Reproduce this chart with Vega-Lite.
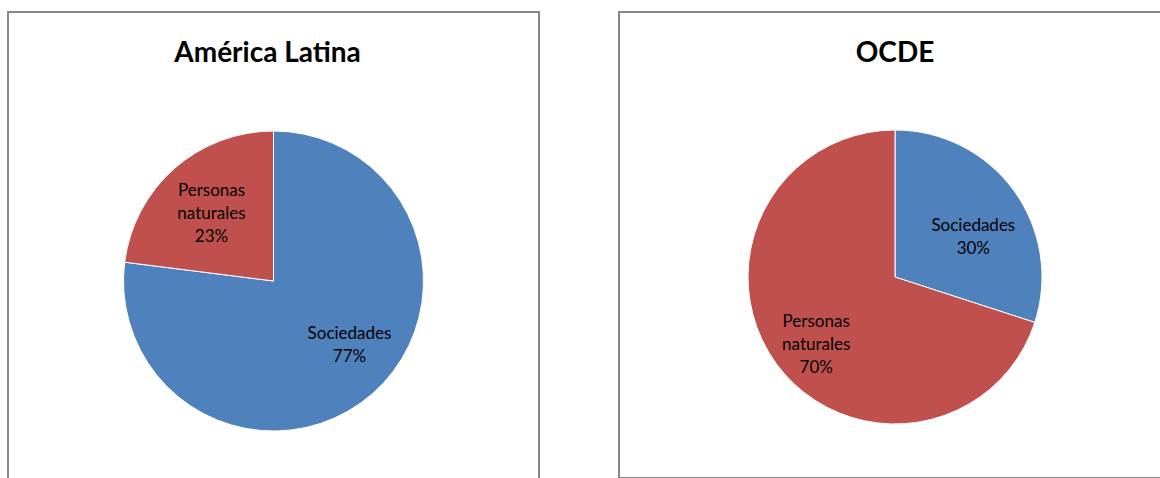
{
  "$schema": "https://vega.github.io/schema/vega-lite/v6.json",
  "padding": {"left": 7, "top": 11, "right": 0, "bottom": 0},
  "background": "white",
  "config": {
    "view": {"stroke": "#888888", "strokeWidth": 2},
    "title": {"font": "Lato", "fontSize": 28, "fontWeight": "bold", "color": "#000000", "anchor": "middle", "offset": -56},
    "text": {"font": "Lato", "fontSize": 17, "lineHeight": 23, "lineBreak": "\n", "color": "#000000", "radius": 90}
  },
  "data": {
    "values": [
      {"region": "América Latina", "tipo": "Sociedades", "pct": 77},
      {"region": "América Latina", "tipo": "Personas naturales", "pct": 23},
      {"region": "OCDE", "tipo": "Sociedades", "pct": 30},
      {"region": "OCDE", "tipo": "Personas naturales", "pct": 70}
    ]
  },
  "transform": [
    {"calculate": "replace(datum.tipo, ' ', '\\n') + '\\n' + datum.pct + '%'", "as": "label"}
  ],
  "spacing": 78,
  "hconcat": [
    {
      "width": 531,
      "height": 520,
      "view": {"stroke": "#888888", "strokeWidth": 2},
      "title": {"text": "América Latina", "dx": -6},
      "transform": [{"filter": "datum.region == 'América Latina'"}],
      "encoding": {
        "theta": {"field": "pct", "type": "quantitative", "stack": true},
        "order": {"field": "tipo", "sort": "descending"}
      },
      "layer": [
        {
          "mark": {"type": "arc", "outerRadius": 150, "y": 269, "stroke": "white", "strokeWidth": 1},
          "encoding": {
            "color": {"field": "tipo", "type": "nominal", "scale": {"domain": ["Sociedades", "Personas naturales"], "range": ["#4F81BD", "#C0504D"]}, "legend": null}
          }
        },
        {
          "mark": {"type": "text", "y": 269, "dx": -2.5, "dy": -22.5},
          "encoding": {"text": {"field": "label", "type": "nominal", "condition": {"test": "datum.tipo == 'Sociedades'", "value": ""}}}
        },
        {
          "mark": {"type": "text", "y": 269, "dx": 16.5, "dy": -14.5},
          "encoding": {"text": {"field": "label", "type": "nominal", "condition": {"test": "datum.tipo != 'Sociedades'", "value": ""}}}
        }
      ]
    },
    {
      "width": 552,
      "height": 466,
      "view": {"stroke": "#888888", "strokeWidth": 2},
      "title": {"text": "OCDE"},
      "transform": [{"filter": "datum.region == 'OCDE'"}],
      "encoding": {
        "theta": {"field": "pct", "type": "quantitative", "stack": true},
        "order": {"field": "tipo", "sort": "descending"}
      },
      "layer": [
        {
          "mark": {"type": "arc", "outerRadius": 147, "y": 265, "stroke": "white", "strokeWidth": 1},
          "encoding": {
            "color": {"field": "tipo", "type": "nominal", "scale": {"domain": ["Sociedades", "Personas naturales"], "range": ["#4F81BD", "#C0504D"]}, "legend": null}
          }
        },
        {
          "mark": {"type": "text", "y": 265, "dx": 5.5, "dy": 2},
          "encoding": {"text": {"field": "label", "type": "nominal", "condition": {"test": "datum.tipo != 'Sociedades'", "value": ""}}}
        },
        {
          "mark": {"type": "text", "y": 265, "dx": -6, "dy": -8},
          "encoding": {"text": {"field": "label", "type": "nominal", "condition": {"test": "datum.tipo == 'Sociedades'", "value": ""}}}
        }
      ]
    }
  ]
}
